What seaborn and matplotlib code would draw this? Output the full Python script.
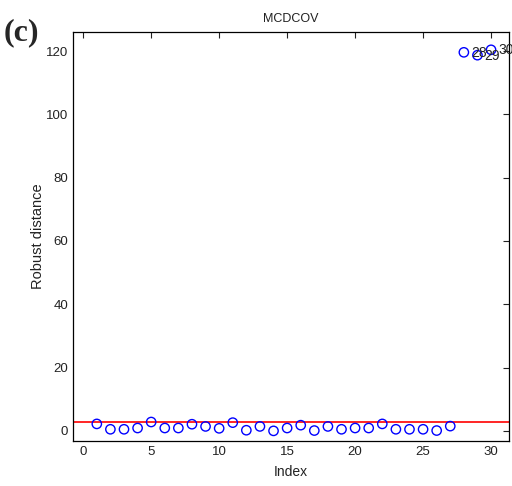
import matplotlib
matplotlib.use("Agg")
import matplotlib.pyplot as plt
import seaborn as sns
import pandas as pd

sns.set_style("white")
plt.rcParams['font.family'] = ['Liberation Sans', 'DejaVu Sans']

index = list(range(1, 31))
robust_distance = [2.2, 0.5, 0.5, 0.9, 2.8, 0.9, 0.9, 2.1, 1.4, 0.8,
                   2.6, 0.2, 1.4, 0.0, 0.9, 1.8, 0.1, 1.4, 0.5, 0.9,
                   0.9, 2.2, 0.5, 0.5, 0.5, 0.1, 1.5, 119.6, 118.7, 120.4]
cutoff = 2.7
outlier_labels = ["28", "29", "30"]
xticks = [0, 5, 10, 15, 20, 25, 30]
yticks = [0, 20, 40, 60, 80, 100, 120]

df = pd.DataFrame({"Index": index, "Robust distance": robust_distance})

fig = plt.figure(figsize=(5.12, 4.86), dpi=100)
ax = fig.add_axes([0.1426, 0.0926, 0.851, 0.8414])

sns.scatterplot(data=df, x="Index", y="Robust distance", ax=ax, marker="o",
                s=45, facecolor="none", edgecolor="blue", linewidth=1.0,
                clip_on=False, zorder=3)
ax.axhline(cutoff, color="red", linewidth=1.2, zorder=2)

for lab in outlier_labels:
    i = int(lab) - 1
    ax.annotate(lab, (index[i], robust_distance[i]), xytext=(5, -0.5),
                textcoords="offset points", va="center", ha="left",
                fontsize=10, color="#222222", annotation_clip=False)

ax.set_xlim(-0.75, 31.3)
ax.set_ylim(-3.2, 126)
ax.set_xticks(xticks)
ax.set_yticks(yticks)
ax.tick_params(direction="in", top=True, right=True, length=4, width=0.8,
               labelsize=9.5, colors="#222222")
for s in ax.spines.values():
    s.set_color("black")
    s.set_linewidth(0.9)
    s.set_visible(True)
ax.set_xlabel("Index", fontsize=10, color="#222222", labelpad=5)
ax.set_ylabel("Robust distance", fontsize=10.5, color="#222222", labelpad=1)
ax.set_title("MCDCOV", fontsize=9, pad=7, color="#222222")

fig.text(0.008, 0.962, "(c)", fontsize=23, fontweight="bold",
         family=["Liberation Serif", "DejaVu Serif"], va="top", ha="left")

fig.savefig("out.png", dpi=100)
